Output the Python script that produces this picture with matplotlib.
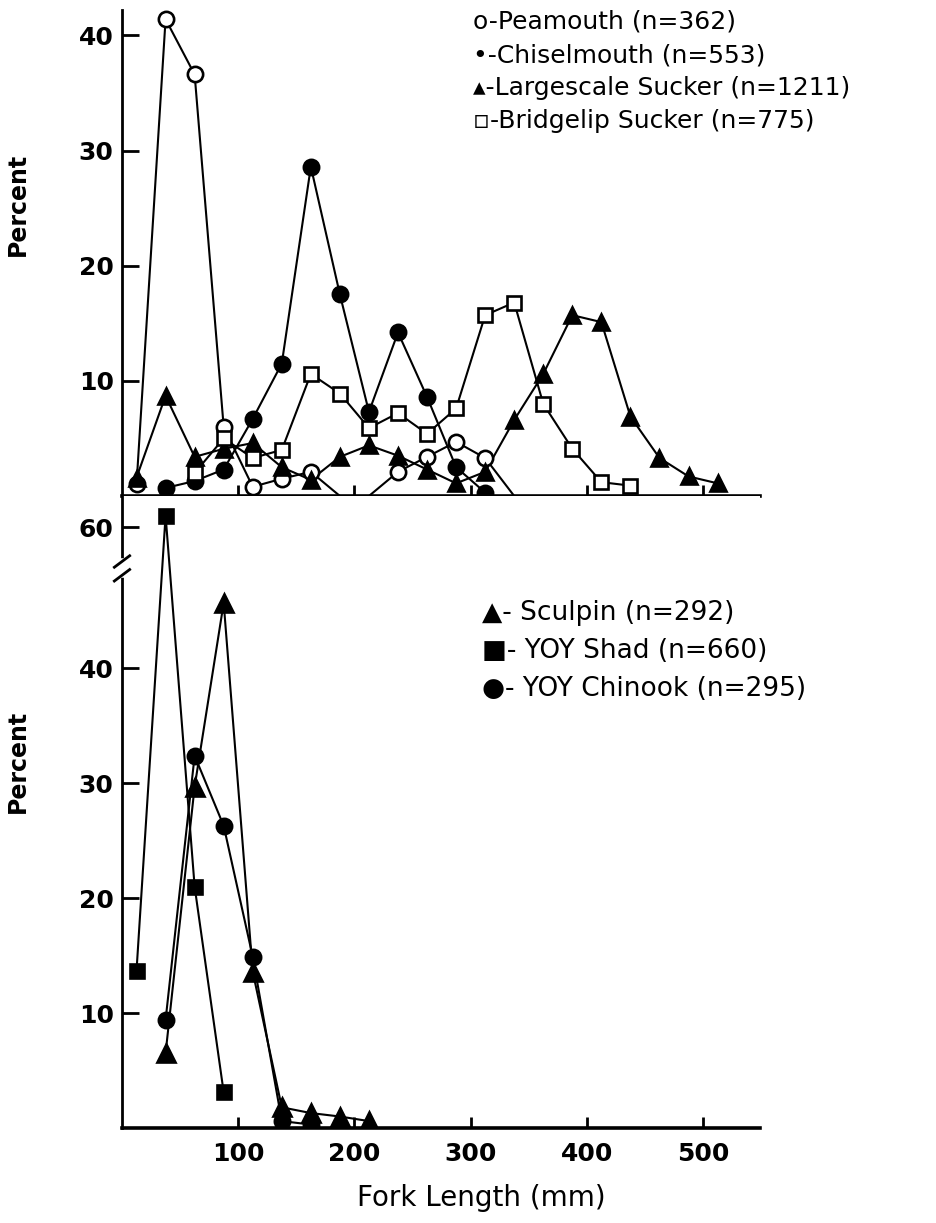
import matplotlib.pyplot as plt

# fork length bin midpoints (mm), 25 mm classes
fork_mid = [12.5, 37.5, 62.5, 87.5, 112.5, 137.5, 162.5, 187.5, 212.5, 237.5,
            262.5, 287.5, 312.5, 337.5, 362.5, 387.5, 412.5, 437.5, 462.5,
            487.5, 512.5]

# upper panel (percent)
peamouth = [1.0, 41.4, 36.6, 6.0, 0.8, 1.5, 2.1, 0.0, 0.0, 2.1, 3.4, 4.7, 3.3, 0.0]
chiselmouth = [0.7, 1.3, 2.3, 6.7, 11.5, 28.6, 17.5, 7.3, 14.2, 8.6, 2.5, 0.3]
largescale = [1.6, 8.7, 3.4, 4.1, 4.6, 2.5, 1.4, 3.4, 4.4, 3.5, 2.3, 1.1, 2.1,
              6.6, 10.6, 15.7, 15.1, 6.9, 3.3, 1.7, 1.1]
bridgelip = [2.0, 5.0, 3.3, 4.0, 10.6, 8.9, 5.9, 7.2, 5.4, 7.6, 15.7, 16.8,
             8.0, 4.1, 1.2, 0.9]

# lower panel (percent)
sculpin = [6.5, 29.7, 45.7, 13.6, 1.8, 1.3, 1.0, 0.6]
shad = [13.7, 61.0, 21.0, 3.1]
chinook = [9.4, 32.4, 26.3, 14.9, 0.6, 0.3]

top_legend = ['o-Peamouth (n=362)', '•-Chiselmouth (n=553)',
              '▴-Largescale Sucker (n=1211)', '▫-Bridgelip Sucker (n=775)']
bottom_legend = ['▲- Sculpin (n=292)', '■- YOY Shad (n=660)',
                 '●- YOY Chinook (n=295)']

BREAK_SHIFT = 7.7   # lower panel axis is broken between 40 and 60


def squash(vals):
    return [v - BREAK_SHIFT if v > 50 else v for v in vals]


def draw(ax, x, y, marker, face, ms=11):
    ax.plot(x, y, color='black', lw=1.5, zorder=2)
    pts = [(a, b) for a, b in zip(x, y) if b > 0]
    ax.plot([p[0] for p in pts], [p[1] for p in pts], ls='none', marker=marker,
            ms=ms, mfc=face, mec='black', mew=1.9, zorder=3)


def main():
    plt.rcParams['font.family'] = ['DejaVu Sans']
    fig = plt.figure(figsize=(9.37, 12.23), dpi=100)
    W, H = 937, 1223
    left, right = 122, 760
    ax1 = fig.add_axes([left / W, 1 - 496 / H, (right - left) / W, (496 - 10) / H])
    ax2 = fig.add_axes([left / W, 1 - 1128 / H, (right - left) / W, (1128 - 496) / H])

    draw(ax1, fork_mid[0:14], peamouth, 'o', 'white')
    draw(ax1, fork_mid[1:13], chiselmouth, 'o', 'black')
    draw(ax1, fork_mid[0:21], largescale, '^', 'black', 12)
    draw(ax1, fork_mid[2:18], bridgelip, 's', 'white', 10)

    draw(ax2, fork_mid[1:9], sculpin, '^', 'black', 13)
    draw(ax2, fork_mid[0:4], squash(shad), 's', 'black', 10)
    draw(ax2, fork_mid[1:7], chinook, 'o', 'black', 11)

    for ax in (ax1, ax2):
        ax.set_xlim(0, 549)
        ax.spines['top'].set_visible(False)
        ax.spines['right'].set_visible(False)
        ax.spines['left'].set_linewidth(2)
        ax.spines['bottom'].set_linewidth(2.6)
        ax.set_xticks([100, 200, 300, 400, 500])
        ax.tick_params(direction='in', width=2, labelsize=18)
        ax.tick_params(axis='y', length=12, pad=6)
        ax.tick_params(axis='x', length=8, pad=10)
        for t in ax.get_xticklabels() + ax.get_yticklabels():
            t.set_fontweight('bold')
        ax.set_ylabel('Percent', fontsize=17, fontweight='bold')

    ax1.set_ylim(0, 42.2)
    ax1.set_yticks([10, 20, 30, 40])
    ax1.tick_params(axis='x', labelbottom=False)
    ax1.yaxis.set_label_coords(-0.145, 0.6)

    ax2.set_ylim(0, 55.0)
    ax2.set_yticks([10, 20, 30, 40, 60 - BREAK_SHIFT])
    ax2.set_yticklabels(['10', '20', '30', '40', '60'], fontweight='bold')
    ax2.yaxis.set_label_coords(-0.145, 0.58)

    # axis break mark
    yb = 48.7
    ax2.plot([0, 0], [yb - 0.6, yb + 0.6], color='white', lw=4,
             transform=ax2.get_yaxis_transform(), clip_on=False, zorder=5)
    for dy in (-0.6, 0.6):
        ax2.plot([-0.012, 0.012], [yb + dy - 0.5, yb + dy + 0.5], color='black',
                 lw=2, transform=ax2.get_yaxis_transform(), clip_on=False, zorder=6)

    fig.text(481 / W, 1 - 1198 / H, 'Fork Length (mm)', fontsize=20,
             ha='center', va='center')

    for i, s in enumerate(top_legend):
        fig.text(473 / W, 1 - (22 + 33 * i) / H, s, fontsize=18, va='center')
    for i, s in enumerate(bottom_legend):
        fig.text(482 / W, 1 - (613 + 38 * i) / H, s, fontsize=19, va='center')

    fig.savefig('out.png', dpi=100)


if __name__ == '__main__':
    main()
